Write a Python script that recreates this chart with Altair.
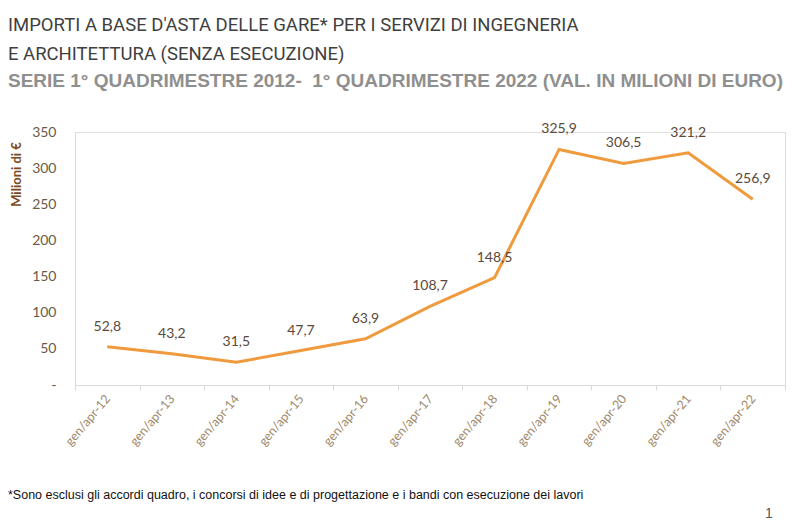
import altair as alt
import pandas as pd

periods = ["gen/apr-12", "gen/apr-13", "gen/apr-14", "gen/apr-15", "gen/apr-16",
           "gen/apr-17", "gen/apr-18", "gen/apr-19", "gen/apr-20", "gen/apr-21", "gen/apr-22"]
values = [52.8, 43.2, 31.5, 47.7, 63.9, 108.7, 148.5, 325.9, 306.5, 321.2, 256.9]
y_ticks = [0, 50, 100, 150, 200, 250, 300, 350]

title_lines = ["IMPORTI A BASE D'ASTA DELLE GARE* PER I SERVIZI DI INGEGNERIA",
               "E ARCHITETTURA (SENZA ESECUZIONE)"]
subtitle = "SERIE 1° QUADRIMESTRE 2012-\u00a0 1° QUADRIMESTRE 2022 (VAL. IN MILIONI DI EURO)"
footnote = "*Sono esclusi gli accordi quadro, i concorsi di idee e di progettazione e i bandi con esecuzione dei lavori"
page_no = "1"

df = pd.DataFrame({"periodo": periods, "valore": values})

x = alt.X("periodo:N", sort=periods, title=None,
          scale=alt.Scale(type="band", paddingInner=0, paddingOuter=0),
          axis=alt.Axis(labelAngle=-50, labelAlign="right", labelBaseline="middle",
                        labelColor="#9c8668", labelFont="Lato", labelFontSize=12.5,
                        labelPadding=6, domainColor="#d9d9d9", tickColor="#d9d9d9",
                        tickSize=5, tickBand="extent"))
y = alt.Y("valore:Q", title="Milioni di €",
          scale=alt.Scale(domain=[0, 350], nice=False),
          axis=alt.Axis(values=y_ticks, tickCount=8, grid=False, domain=False, ticks=False,
                        labelOverlap=False,
                        labelExpr="datum.value == 0 ? '-' : datum.label",
                        labelColor="#6b5a48", labelFont="Lato", labelFontSize=14,
                        labelPadding=19, titleColor="#7a4a1c", titleFont="Lato",
                        titleFontSize=13, titleFontWeight="bold", titleAngle=270,
                        titleX=-59, titleY=42, titleAlign="center", titleBaseline="middle"))

base = alt.Chart(df).encode(x=x, y=y)
line = base.mark_line(color="#F09A3E", strokeWidth=3)
labels = base.transform_calculate(
    lbl="replace(format(datum.valore, '.1f'), '.', ',')"
).mark_text(dy=-20, font="Lato", fontSize=14, color="#594a3c").encode(text="lbl:N")

foot = alt.Chart(pd.DataFrame({"t": [footnote]})).mark_text(
    align="left", baseline="alphabetic", font="Liberation Sans", fontSize=12.5, color="#111111"
).encode(x=alt.value(-67), y=alt.value(367), text="t:N")
page = alt.Chart(pd.DataFrame({"t": [page_no]})).mark_text(
    align="left", baseline="alphabetic", font="Liberation Sans", fontSize=14, color="#555555"
).encode(x=alt.value(690), y=alt.value(386), text="t:N")

chart = alt.layer(line, labels, foot, page).properties(
    width=710, height=253,
    padding={"left": 0, "top": 7, "right": 5, "bottom": 0},
    title=alt.TitleParams(text=title_lines, subtitle=subtitle, anchor="start",
                          frame="bounds", font="Roboto", fontSize=18.5, fontWeight="normal",
                          color="#3f3f3f", lineHeight=29, subtitleFont="Liberation Sans",
                          subtitleFontSize=19, subtitleFontWeight="bold",
                          subtitleColor="#8f8f8f", subtitlePadding=9, offset=31)
).configure_view(stroke=None).configure(background="white")

chart.save("out.html", embed_options={"renderer": "svg", "actions": False})
